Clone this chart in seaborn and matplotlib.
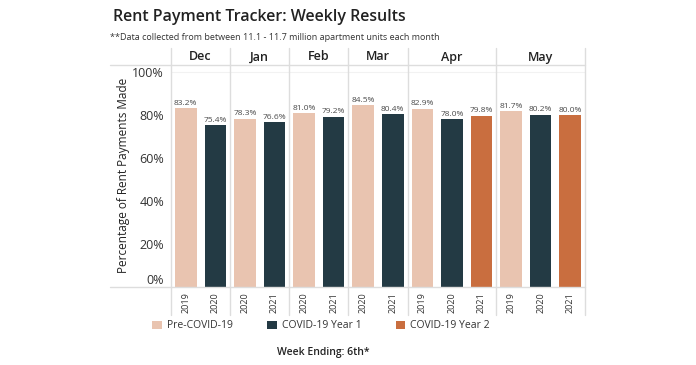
import matplotlib
matplotlib.use("Agg")
import matplotlib.pyplot as plt
from matplotlib.lines import Line2D
import pandas as pd
import seaborn as sns

# chart data
months = ['Dec', 'Dec', 'Jan', 'Jan', 'Feb', 'Feb', 'Mar', 'Mar',
          'Apr', 'Apr', 'Apr', 'May', 'May', 'May']
years = ['2019', '2020', '2020', '2021', '2020', '2021', '2020', '2021',
         '2019', '2020', '2021', '2019', '2020', '2021']
values = [83.2, 75.4, 78.3, 76.6, 81.0, 79.2, 84.5, 80.4,
          82.9, 78.0, 79.8, 81.7, 80.2, 80.0]
periods = ['Pre-COVID-19', 'COVID-19 Year 1', 'Pre-COVID-19', 'COVID-19 Year 1',
           'Pre-COVID-19', 'COVID-19 Year 1', 'Pre-COVID-19', 'COVID-19 Year 1',
           'Pre-COVID-19', 'COVID-19 Year 1', 'COVID-19 Year 2',
           'Pre-COVID-19', 'COVID-19 Year 1', 'COVID-19 Year 2']
month_order = ['Dec', 'Jan', 'Feb', 'Mar', 'Apr', 'May']
period_order = ['Pre-COVID-19', 'COVID-19 Year 1', 'COVID-19 Year 2']
colors = {'Pre-COVID-19': '#e9c4b0', 'COVID-19 Year 1': '#233a44', 'COVID-19 Year 2': '#c96e3f'}
y_ticks = [0, 20, 40, 60, 80, 100]

df = pd.DataFrame({'month': months, 'year': years, 'value': values, 'period': periods})
df['slot'] = df['month'] + ' ' + df['year']

sns.set_theme(style='white')
plt.rcParams['font.family'] = ['Open Sans', 'DejaVu Sans']

W, H = 696, 365
fig = plt.figure(figsize=(W / 100, H / 100), dpi=100)
ax = fig.add_axes([171 / W, 1 - 287 / H, (585 - 171) / W, (287 - 65) / H])

sns.barplot(data=df, x='slot', y='value', hue='period', hue_order=period_order,
            palette=colors, dodge=False, width=0.73, saturation=1,
            linewidth=0, ax=ax)

for cont in ax.containers:
    labels = ['' if pd.isna(b.get_height()) or b.get_height() == 0 else f'{b.get_height():.1f}%'
              for b in cont]
    ax.bar_label(cont, labels=labels, padding=1, fontsize=6, color='#4a4a4a')

ax.set_ylim(0, 103.3)
ax.set_xlim(-0.5, len(df) - 0.5)
ax.set_yticks(y_ticks)
ax.set_yticklabels([f'{t}%' for t in y_ticks], fontsize=9, color='#333333')
ax.get_yticklabels()[0].set_verticalalignment('bottom')
ax.tick_params(axis='y', length=0, pad=5)
ax.set_xticks(range(len(df)))
ax.set_xticklabels(df['year'], rotation=90, fontsize=6.5, color='#333333')
ax.tick_params(axis='x', length=0, pad=4)
ax.set_xlabel('')
ax.set_ylabel('')
for s in ax.spines.values():
    s.set_visible(False)
ax.axhline(100, color='#f2f2f2', lw=0.8, zorder=0)

# month header and separators
px = lambda x: x / W
py = lambda y: 1 - y / H
start = 0
bounds = [0]
for m in month_order:
    n = (df['month'] == m).sum()
    centre = start + n / 2 - 0.5
    fx = ax.transData.transform((centre, 0))[0] / fig.dpi / fig.get_figwidth()
    fig.text(fx, py(57), m, ha='center', va='center', fontsize=9, weight='semibold', color='#222222')
    start += n
    bounds.append(start)
for b in bounds:
    fx = ax.transData.transform((b - 0.5, 0))[0] / fig.dpi / fig.get_figwidth()
    fig.add_artist(Line2D([fx, fx], [py(48), py(315)], color='#dddddd', lw=1))
for yy in (65, 287):
    fig.add_artist(Line2D([px(110), px(585)], [py(yy), py(yy)], color='#dddddd', lw=1))

fig.text(px(123), py(175), 'Percentage of Rent Payments Made', rotation=90,
         ha='center', va='center', fontsize=8.5, color='#222222')

fig.text(px(113), py(17), 'Rent Payment Tracker: Weekly Results', ha='left', va='center',
         fontsize=11.5, weight='semibold', color='#222222')
fig.text(px(110), py(38), '**Data collected from between 11.1 - 11.7 million apartment units each month',
         ha='left', va='center', fontsize=6.5, color='#333333')

sns.move_legend(ax, 'center left', bbox_to_anchor=(px(143), py(326)),
                bbox_transform=fig.transFigure, ncol=3, frameon=False, title=None,
                fontsize=7.5, handlelength=0.9, handleheight=0.9, handletextpad=0.5,
                columnspacing=3.3)
for t in ax.get_legend().get_texts():
    t.set_color('#333333')

fig.text(px(323), py(353), 'Week Ending: 6th*', ha='center', va='center',
         fontsize=7.5, weight='semibold', color='#222222')

fig.savefig('out.png', dpi=100)
